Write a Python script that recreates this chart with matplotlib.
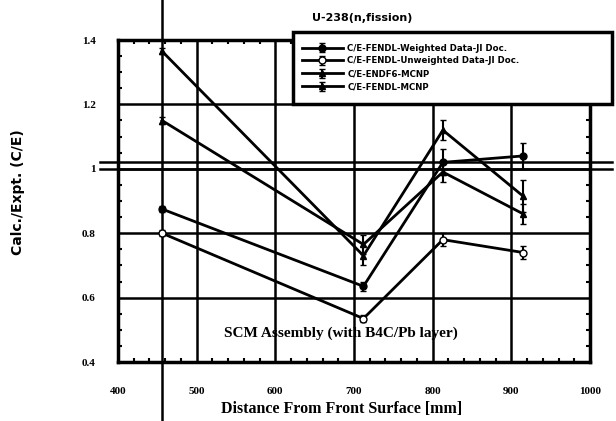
import matplotlib
matplotlib.use("Agg")
import matplotlib.pyplot as plt
from matplotlib.ticker import MultipleLocator
from matplotlib.patches import Rectangle

# ---- data ----
distance = [456, 712, 813, 915]
weighted_fendl = [0.875, 0.635, 1.02, 1.04]
weighted_err = [0.01, 0.015, 0.04, 0.04]
unweighted_fendl = [0.80, 0.535, 0.78, 0.74]
unweighted_err = [0.01, 0.01, 0.02, 0.02]
endf_mcnp = [1.365, 0.73, 1.12, 0.915]
endf_err = [0.01, 0.03, 0.03, 0.05]
fendl_mcnp = [1.15, 0.765, 0.99, 0.86]
fendl_err = [0.01, 0.03, 0.03, 0.03]

labels = ["C/E-FENDL-Weighted Data-JI Doc.",
          "C/E-FENDL-Unweighted Data-JI Doc.",
          "C/E-ENDF6-MCNP",
          "C/E-FENDL-MCNP"]
xticks = [400, 500, 600, 700, 800, 900, 1000]
yticks = [0.4, 0.6, 0.8, 1.0, 1.2, 1.4]
ytick_labels = ["0.4", "0.6", "0.8", "1", "1.2", "1.4"]

W, H = 616, 421
fig = plt.figure(figsize=(W / 100, H / 100), dpi=100)
ax = fig.add_axes([118 / W, 59 / H, 472 / W, 322 / H])

serif = "Liberation Serif"

ax.set_xlim(400, 1000)
ax.set_ylim(0.4, 1.4)
ax.set_xticks(xticks)
ax.set_yticks(yticks)
ax.set_yticklabels(ytick_labels)
ax.xaxis.set_minor_locator(MultipleLocator(20))
ax.yaxis.set_minor_locator(MultipleLocator(0.05))
ax.tick_params(which="both", direction="in", top=True, right=True, length=3, width=1.5)
ax.tick_params(axis="x", which="major", length=0, pad=18)
ax.tick_params(axis="y", which="major", length=0, pad=16)
for lab in ax.get_xticklabels() + ax.get_yticklabels():
    lab.set_fontfamily(serif)
    lab.set_fontweight("bold")
    lab.set_fontsize(8)

ax.grid(True, which="major", color="black", linewidth=1.8)
ax.set_axisbelow(True)
for s in ax.spines.values():
    s.set_linewidth(2.5)

# extended reference lines
ax.axhline(1.02, xmin=-0.038, xmax=1.047, color="black", lw=1.8, clip_on=False)
ax.axhline(1.0, xmin=-0.038, xmax=1.047, color="black", lw=1.8, clip_on=False)
ax.axvline(456, ymin=-0.19, ymax=1.13, color="black", lw=1.8, clip_on=False)

kw = dict(color="black", lw=2.0, capsize=2.5, elinewidth=1.5, markersize=5)
ax.errorbar(distance, weighted_fendl, yerr=weighted_err, marker="o", mfc="black", label=labels[0], **kw)
ax.errorbar(distance, unweighted_fendl, yerr=unweighted_err, marker="o", mfc="white", label=labels[1], **kw)
ax.errorbar(distance, endf_mcnp, yerr=endf_err, marker="^", mfc="black", label=labels[2], **kw)
ax.errorbar(distance, fendl_mcnp, yerr=fendl_err, marker="^", mfc="black", label=labels[3], **kw)

# legend box (wide frame like the reference)
box = Rectangle((293 / W, 1 - 104 / H), (612 - 293) / W, (104 - 32) / H,
                transform=fig.transFigure, facecolor="white", edgecolor="black",
                linewidth=2.5, clip_on=False, zorder=4)
ax.add_artist(box)
leg = ax.legend(loc="upper left", bbox_to_anchor=(293 / W, 1 - 35 / H), bbox_transform=fig.transFigure,
                frameon=False, handlelength=4.8, borderpad=0.5, labelspacing=0.45,
                handletextpad=0.5, prop={"weight": "bold", "size": 6.2})
leg.set_zorder(5)

fig.text(362 / W, 1 - 18 / H, "U-238(n,fission)", ha="center", va="center",
         fontsize=8, fontweight="bold")
ax.text(683, 0.49, "SCM Assembly (with B4C/Pb layer)", ha="center", va="center",
        fontsize=11, fontweight="bold", fontfamily=serif)
ax.set_xlabel("Distance From Front Surface [mm]", fontsize=11.5, fontweight="bold",
              fontfamily=serif)
ax.xaxis.set_label_coords((342 - 118) / 472, (362 - 401) / 322)
ax.set_ylabel("Calc./Expt. (C/E)", fontsize=10, fontweight="bold")
ax.yaxis.set_label_coords((25 - 118) / 472, (362 - 192) / 322)

fig.savefig("out.png", dpi=100)
